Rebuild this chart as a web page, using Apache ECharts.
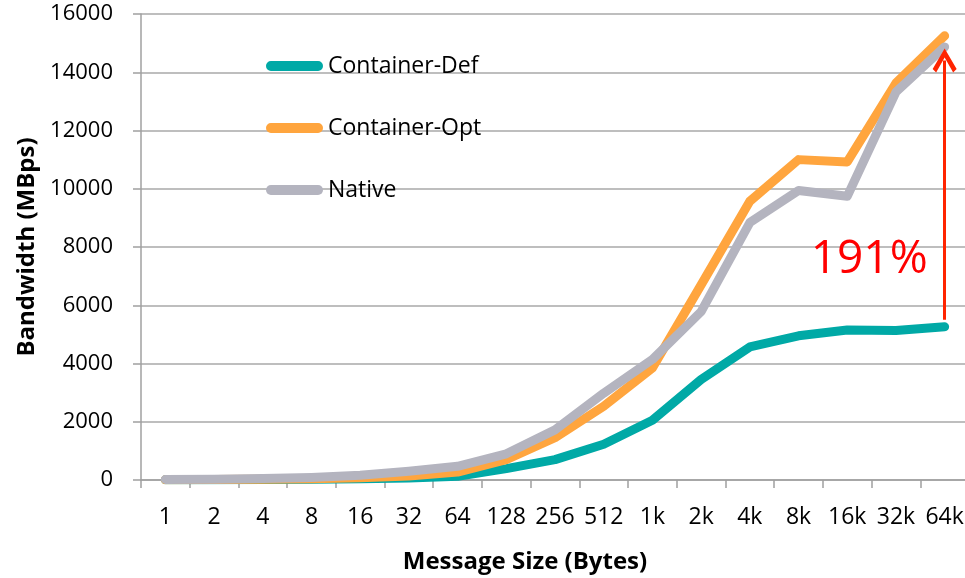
<!DOCTYPE html>
<html>
<head>
<meta charset="utf-8">
<script src="https://cdn.jsdelivr.net/npm/echarts@6/dist/echarts.min.js"></script>
<style>
html,body{margin:0;padding:0;background:#fff;}
#chart{width:965px;height:578px;}
</style>
</head>
<body>
<div id="chart"></div>
<script>
const categories = ['1','2','4','8','16','32','64','128','256','512','1k','2k','4k','8k','16k','32k','64k'];
const containerDef = [5, 8, 15, 25, 40, 70, 130, 390, 700, 1230, 2050, 3450, 4570, 4950, 5150, 5130, 5260];
const containerOpt = [10, 15, 25, 45, 80, 140, 270, 700, 1450, 2530, 3850, 6700, 9570, 11000, 10920, 13630, 15250];
const nativeBw = [20, 30, 50, 90, 160, 300, 470, 900, 1720, 2980, 4140, 5780, 8840, 9940, 9740, 13320, 14870];
const yTicks = {min: 0, max: 16000, interval: 2000};
const arrowFrom = 5500;
const arrowTo = 14400;
const gainLabel = '191%';
const gainLabelAt = ['16k', 7560];

const FONT = '"Open Sans", sans-serif';
const chart = echarts.init(document.getElementById('chart'), null, {renderer: 'canvas'});
const lineCommon = {type: 'line', symbol: 'none', smooth: false, animation: false};
const pill = 'path://M5,0 H53 A5,5 0 0 1 53,10 H5 A5,5 0 0 1 5,0 Z';
chart.setOption({
  animation: false,
  grid: {left: 141, top: 14, width: 828, height: 466, containLabel: false, outerBoundsMode: 'none'},
  legend: {
    orient: 'vertical', left: 266, top: 54, itemGap: 38, padding: 0,
    itemWidth: 57, itemHeight: 10, icon: pill,
    textStyle: {fontFamily: FONT, fontSize: 23, color: '#000', lineHeight: 24},
    data: ['Container-Def', 'Container-Opt', 'Native']
  },
  xAxis: {
    type: 'category', data: categories, boundaryGap: true,
    name: 'Message Size (Bytes)', nameLocation: 'middle', nameGap: 70,
    nameTextStyle: {fontFamily: FONT, fontSize: 24, fontWeight: 'bold', color: '#000', padding: [0, 60, 0, 0]},
    axisLine: {lineStyle: {color: '#a0a0a0', width: 1.5}},
    axisTick: {show: true, length: 8, inside: false, lineStyle: {color: '#a0a0a0', width: 1.5}},
    axisLabel: {fontFamily: FONT, fontSize: 23, color: '#000', margin: 26, interval: 0}
  },
  yAxis: {
    type: 'value', min: yTicks.min, max: yTicks.max, interval: yTicks.interval,
    name: 'Bandwidth (MBps)', nameLocation: 'middle', nameGap: 94, nameRotate: 90,
    nameTextStyle: {fontFamily: FONT, fontSize: 24, fontWeight: 'bold', color: '#000'},
    axisLine: {show: true, lineStyle: {color: '#a0a0a0', width: 1.5}},
    axisTick: {show: true, length: 8, lineStyle: {color: '#a0a0a0', width: 1.5}},
    axisLabel: {fontFamily: FONT, fontSize: 22, color: '#000', margin: 28,
                formatter: function (v) { return String(v); }},
    splitLine: {show: true, lineStyle: {color: '#a8a8a8', width: 1.5}}
  },
  series: [
    Object.assign({}, lineCommon, {
      name: 'Container-Def', data: containerDef, color: '#00a9a6',
      lineStyle: {width: 9, color: '#00a9a6', cap: 'round', join: 'round'},
      markLine: {
        silent: true, animation: false,
        symbol: ['none', 'path://M12,0 L24,20.5 L20.5,24 L12,9 L3.5,24 L0,20.5 Z'],
        symbolSize: [24, 24],
        lineStyle: {color: '#ff2400', width: 3, type: 'solid'},
        itemStyle: {color: '#ff2400'},
        label: {show: false}, emphasis: {disabled: true},
        data: [[{coord: ['64k', arrowFrom]}, {coord: ['64k', arrowTo]}]]
      },
      markPoint: {
        silent: true, animation: false, symbol: 'circle', symbolSize: 1,
        itemStyle: {color: 'transparent'},
        label: {show: true, position: 'inside', offset: [22, 0], formatter: gainLabel,
                fontFamily: FONT, fontSize: 46, color: '#ff0000'},
        data: [{coord: gainLabelAt}]
      }
    }),
    Object.assign({}, lineCommon, {
      name: 'Container-Opt', data: containerOpt, color: '#ffa53e',
      lineStyle: {width: 9, color: '#ffa53e', cap: 'round', join: 'round'}
    }),
    Object.assign({}, lineCommon, {
      name: 'Native', data: nativeBw, color: '#b4b4bf',
      lineStyle: {width: 9, color: '#b4b4bf', cap: 'round', join: 'round'}
    })
  ]
});
</script>
</body>
</html>
